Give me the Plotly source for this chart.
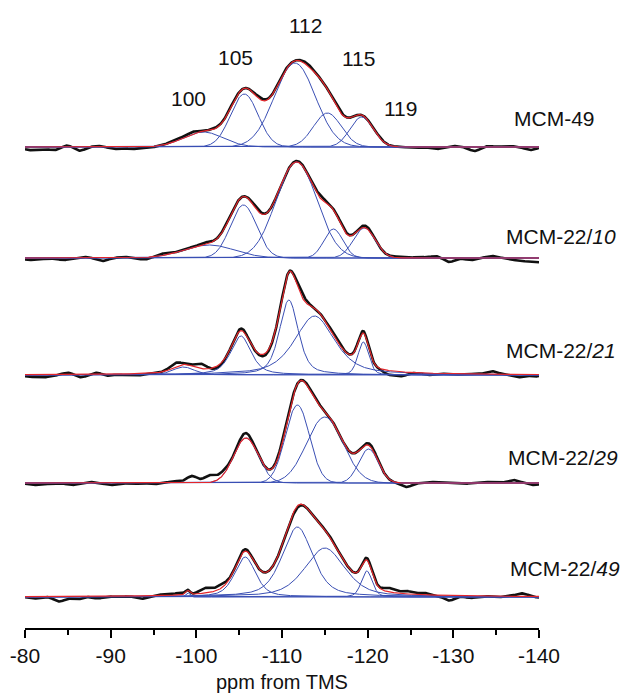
import numpy as np
import plotly.graph_objects as go

# ---------------- data ----------------
sample_labels = ["MCM-49", "MCM-22/<i>10</i>", "MCM-22/<i>21</i>", "MCM-22/<i>29</i>", "MCM-22/<i>49</i>"]
baseline_offsets = [481, 370, 253, 145, 31]   # vertical stacking of the spectra (intensity units)

# fitted components: centre (ppm), height, FWHM (ppm), Lorentzian fraction
mcm49_centers = [-100.8, -105.6, -111.5, -115.3, -119.3]
mcm49_heights = [15, 53, 84, 34, 30]
mcm49_fwhm = [5.5, 3.8, 5.6, 3.8, 3.2]
mcm49_eta = [0, 0, 0, 0, 0]

mcm22_10_centers = [-101.5, -105.5, -111.7, -116.0, -119.6]
mcm22_10_heights = [13, 53, 96, 29, 30]
mcm22_10_fwhm = [7.0, 3.6, 5.6, 2.6, 3.0]
mcm22_10_eta = [0, 0, 0, 0, 0]

mcm22_21_centers = [-98.5, -105.2, -110.8, -113.8, -119.5]
mcm22_21_heights = [8, 39, 75, 59, 33]
mcm22_21_fwhm = [3.0, 2.8, 2.6, 5.5, 1.5]
mcm22_21_eta = [0.3, 0.6, 0.5, 0.6, 0.3]

mcm22_29_centers = [-105.8, -111.8, -115.0, -120.1]
mcm22_29_heights = [45, 78, 66, 34]
mcm22_29_fwhm = [3.4, 3.3, 5.0, 2.7]
mcm22_29_eta = [0, 0, 0, 0]

mcm22_49_centers = [-99.0, -105.7, -111.8, -115.0, -119.9]
mcm22_49_heights = [4, 40, 70, 49, 26]
mcm22_49_fwhm = [0.6, 2.9, 4.2, 5.5, 1.5]
mcm22_49_eta = [0, 0.5, 0.5, 0.5, 0.3]

# deviations of the measured spectrum from the fit: position (ppm), amplitude
mcm49_dev_pos = [-80.5, -82, -83.5, -85, -86.3, -88.5, -90.5, -92.5, -94.5, -97.5, -99.5, -102, -104,
                 -107.5, -110, -113, -116.5, -121, -125.5, -128, -130, -132.5, -134, -136.5, -139]
mcm49_dev_amp = [-3, -2, -3, 2, -4, 1, -2, -2, -1, 2, 2, 1, 1, 2, 1, 2, 1.5, 1, -1, -2, 1, -4, 1, 1, -3]

mcm22_10_dev_pos = [-80.5, -82.5, -84.5, -87, -89, -91.5, -94, -96, -98.5, -101, -103.5, -107, -112, -114.5,
                    -117, -119.8, -123.5, -126, -128, -129.5, -132, -134.5, -137, -138.5, -140]
mcm22_10_dev_amp = [-2, -1, -2, 1, -3, 1, -2, 2, 1, 2, 1, 2, 1, 3, 2, 2, 1, 1, 2, -4, -2, 2, -2, -3, -4]

mcm22_21_dev_pos = [-80.5, -82, -83.5, -85, -86.5, -88.5, -89.5, -91.5, -93, -97.5, -100.5, -102.5, -105.3,
                    -108, -112.3, -116, -119.3, -122.5, -124, -127, -130, -134.5, -137.5, -139.5]
mcm22_21_dev_amp = [-2, -3, -1, 2, -3, 2, -2, -1, -2, 4, 5, -2, 2, -2, 4, 2, 2, -4, -4, -2, -1, 3, -3, -2]

mcm22_29_dev_pos = [-81, -83, -85.5, -87.5, -90, -92.5, -95, -97.5, -99.5, -101.5, -103, -105.7, -110,
                    -113.5, -120.3, -124.5, -127.5, -131, -134, -137, -139.5]
mcm22_29_dev_amp = [-2, -1, -2, 1, -2, -1, -1, 2, 7, 7, 4, 5, 2, 2, 2, -4, 1, -1, 1, 3, -2]

mcm22_49_dev_pos = [-81, -84, -86, -88.5, -91, -93.5, -96, -98, -101, -102.8, -105.5, -111.5, -116, -120,
                    -122.5, -124.5, -126.5, -129.5, -132, -135, -138, -140]
mcm22_49_dev_amp = [-2, -5, -3, -2, -1, -3, 1, 2, 5, 4, 2, -2, 1, 2, 4, 3, 2, -5, -2, -1, 3, -1]

peak_labels = ["100", "105", "112", "115", "119"]
x_ticks = [-80, -90, -100, -110, -120, -130, -140]

# ---------------- build ----------------
components = [
    (mcm49_centers, mcm49_heights, mcm49_fwhm, mcm49_eta),
    (mcm22_10_centers, mcm22_10_heights, mcm22_10_fwhm, mcm22_10_eta),
    (mcm22_21_centers, mcm22_21_heights, mcm22_21_fwhm, mcm22_21_eta),
    (mcm22_29_centers, mcm22_29_heights, mcm22_29_fwhm, mcm22_29_eta),
    (mcm22_49_centers, mcm22_49_heights, mcm22_49_fwhm, mcm22_49_eta),
]
deviations = [
    (mcm49_dev_pos, mcm49_dev_amp),
    (mcm22_10_dev_pos, mcm22_10_dev_amp),
    (mcm22_21_dev_pos, mcm22_21_dev_amp),
    (mcm22_29_dev_pos, mcm22_29_dev_amp),
    (mcm22_49_dev_pos, mcm22_49_dev_amp),
]

x = np.linspace(-80, -140, 1201)


def pvoigt(xx, c, h, w, eta):
    g = np.exp(-4 * np.log(2) * ((xx - c) / w) ** 2)
    lo = 1.0 / (1.0 + ((xx - c) / (w / 2)) ** 2)
    return h * (eta * lo + (1 - eta) * g)


BLACK = "#111111"
RED = "#e3262b"
BLUE = "#3a4fb4"

fig = go.Figure()
for off, comp, dev in zip(baseline_offsets, components, deviations):
    cs, hs, ws, es = comp
    parts = [pvoigt(x, c, h, w, e) for c, h, w, e in zip(cs, hs, ws, es)]
    fit = np.sum(parts, axis=0)
    resid = np.zeros_like(x)
    for p, a in zip(*dev):
        resid += a * np.exp(-4 * np.log(2) * ((x - p) / 1.5) ** 2)
    meas = fit + resid
    fig.add_trace(go.Scatter(x=x, y=meas + off, mode="lines",
                             line=dict(color=BLACK, width=2.6), hoverinfo="skip"))
    for part in parts:
        fig.add_trace(go.Scatter(x=x, y=part + off, mode="lines",
                                 line=dict(color=BLUE, width=1.0), hoverinfo="skip"))
    fig.add_trace(go.Scatter(x=x, y=fit + off, mode="lines",
                             line=dict(color=RED, width=1.2), hoverinfo="skip"))

FONT = "Liberation Sans, Arial, sans-serif"
FS = 21
annotations = []
# peak position labels above the top spectrum
peak_label_pos = [(-99.1, 530), (-104.6, 571), (-112.8, 603), (-118.9, 570), (-123.8, 520)]
for txt, (px, py) in zip(peak_labels, peak_label_pos):
    annotations.append(dict(x=px, y=py, xref="x", yref="y", text=txt, showarrow=False,
                            font=dict(family=FONT, size=FS, color="#111")))
# sample labels at the right
sample_label_pos = [(512, 118), (504, 237), (504, 350), (506, 457), (508, 568)]
for txt, (px, py) in zip(sample_labels, sample_label_pos):
    annotations.append(dict(x=(px - 25) / 514, y=1 - py / 628, xref="paper", yref="paper", text=txt,
                            showarrow=False, xanchor="left", yanchor="middle",
                            font=dict(family=FONT, size=FS, color="#111")))
annotations.append(dict(x=0.5, y=0, xref="paper", yref="paper", yshift=-54, text="ppm from TMS",
                        showarrow=False, yanchor="middle", font=dict(family=FONT, size=20, color="#111")))

fig.update_layout(
    width=630, height=697,
    margin=dict(l=25, r=91, t=0, b=69),
    paper_bgcolor="white", plot_bgcolor="white",
    showlegend=False,
    annotations=annotations,
    xaxis=dict(range=[-80, -140], tickvals=x_ticks, ticktext=[str(t) for t in x_ticks],
               showline=True, linecolor="black", linewidth=2, ticks="outside", ticklen=8,
               tickwidth=2, tickcolor="black", showgrid=False, zeroline=False,
               tickfont=dict(family=FONT, size=FS, color="#111"),
               minor=dict(tickvals=[-85, -95, -105, -115, -125, -135], ticks="outside",
                          ticklen=5, tickwidth=2, tickcolor="black")),
    yaxis=dict(range=[0, 628], visible=False, showgrid=False, zeroline=False),
)
fig.write_html("out.html")
